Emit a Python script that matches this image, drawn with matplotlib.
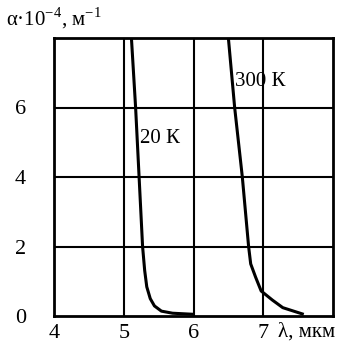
import matplotlib.pyplot as plt

# absorption edge curves, wavelength in um, alpha in 1e4 m^-1
lam_20 = [5.11, 5.17, 5.22, 5.27, 5.30, 5.33, 5.38, 5.44, 5.54, 5.70, 5.99]
alpha_20 = [8.0, 6.0, 4.0, 2.0, 1.31, 0.84, 0.50, 0.29, 0.14, 0.08, 0.05]

lam_300 = [6.50, 6.59, 6.70, 6.79, 6.82, 6.89, 6.97, 7.13, 7.28, 7.56]
alpha_300 = [8.0, 6.0, 4.0, 2.0, 1.5, 1.12, 0.72, 0.46, 0.24, 0.06]

xticks = [4, 5, 6, 7]
yticks = [0, 2, 4, 6]

plt.rcParams['font.family'] = ['Liberation Serif', 'DejaVu Serif']
plt.rcParams['mathtext.fontset'] = 'custom'
plt.rcParams['mathtext.rm'] = 'Liberation Serif'

fig = plt.figure(figsize=(3.45, 3.51), dpi=100)
ax = fig.add_axes([54/345, 35/351, 279/345, 278/351])

ax.plot(lam_20, alpha_20, color='black', lw=2.2, solid_joinstyle='round')
ax.plot(lam_300, alpha_300, color='black', lw=2.2, solid_joinstyle='round')

ax.set_xlim(4, 8)
ax.set_ylim(0, 8)
ax.set_xticks(xticks)
ax.set_yticks(yticks)
ax.tick_params(length=0, labelsize=16)
ax.tick_params(axis='y', pad=20)
ax.tick_params(axis='x', pad=6)

for v in [5, 6, 7]:
    ax.axvline(v, color='black', lw=1.5, zorder=0)
for v in [2, 4, 6]:
    ax.axhline(v, color='black', lw=1.5, zorder=0)
for s in ax.spines.values():
    s.set_linewidth(2)

ax.text(5.24, 5.1, '20 К', fontsize=15, ha='left', va='center')
ax.text(6.6, 6.75, '300 К', fontsize=15, ha='left', va='center')

fig.text(6/345, 1 - 18/351, 'α·10$^{\\mathrm{-4}}$, м$^{\\mathrm{-1}}$', fontsize=15, ha='left', va='center')
fig.text(278/345, 1 - 332/351, 'λ, мкм', fontsize=15, ha='left', va='center')

fig.savefig('out.png', dpi=100)
